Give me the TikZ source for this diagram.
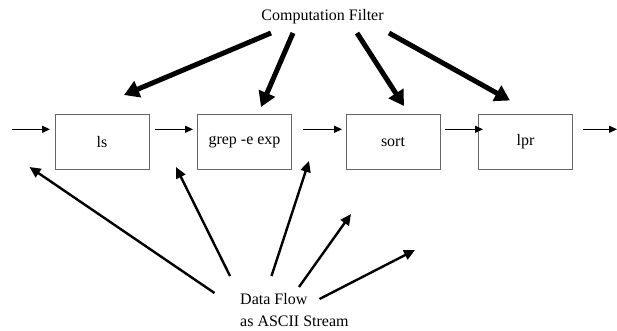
\documentclass[tikz,border=0pt]{standalone}
\usepackage{fontspec}
\setmainfont{Liberation Serif}
\usetikzlibrary{arrows.meta}
\begin{document}
\begin{tikzpicture}[x=1pt,y=-1pt,
  box/.style={draw=black!60,line width=0.9pt,minimum width=94pt,minimum height=55pt,inner sep=0pt,font=\fontsize{16}{19}\selectfont},
  flow/.style={line width=1.2pt,-{Triangle[length=8pt,width=7pt]}},
  filt/.style={line width=5pt,-{Triangle[length=15pt,width=17pt]}},
  data/.style={line width=2.4pt,-{Triangle[length=11pt,width=10pt]}},
  lbl/.style={inner sep=0pt,font=\fontsize{16}{22}\selectfont}]
\useasboundingbox (0,0) rectangle (617,331);
% boxes
\node[box] (ls)   at (102,142)   {ls};
\node[box] (grep) at (244.5,142) {grep -e exp};
\node[box] (sort) at (393,142)   {sort};
\node[box] (lpr)  at (525.5,142) {lpr};
% labels
\node[lbl,anchor=base] (cf) at (322.5,20.7) {Computation Filter};
\node[lbl,anchor=north west,align=left] (df) at (240,293.5) {Data Flow\\as ASCII Stream};
% horizontal flow coordinates
\coordinate (in0) at (12,129.3);
\coordinate (in1) at (50,129.3);
\coordinate (a1) at (155,129.3);
\coordinate (b1) at (193,129.3);
\coordinate (a2) at (303,129.3);
\coordinate (b2) at (342,129.3);
\coordinate (a3) at (445,129.3);
\coordinate (b3) at (483,129.3);
\coordinate (out0) at (583,129.3);
\coordinate (out1) at (617,129.3);
\draw[flow] (in0) -- (in1);
\draw[flow] (a1) -- (b1);
\draw[flow] (a2) -- (b2);
\draw[flow] (a3) -- (b3);
\draw[flow] (out0) -- (out1);
% computation filter arrows
\coordinate (f1s) at (271,33);   \coordinate (f1t) at (124,95);
\coordinate (f2s) at (293,33);   \coordinate (f2t) at (261,107);
\coordinate (f3s) at (357,33);   \coordinate (f3t) at (404,106);
\coordinate (f4s) at (389,33);   \coordinate (f4t) at (510,100.5);
\draw[filt] (f1s) -- (f1t);
\draw[filt] (f2s) -- (f2t);
\draw[filt] (f3s) -- (f3t);
\draw[filt] (f4s) -- (f4t);
% data flow arrows
\coordinate (d1s) at (214.5,293); \coordinate (d1t) at (29.5,167);
\coordinate (d2s) at (230,276);   \coordinate (d2t) at (176,167);
\coordinate (d3s) at (271.5,276); \coordinate (d3t) at (309,161);
\coordinate (d4s) at (299,287);   \coordinate (d4t) at (351,214);
\coordinate (d5s) at (319.5,299); \coordinate (d5t) at (415,250);
\draw[data] (d1s) -- (d1t);
\draw[data] (d2s) -- (d2t);
\draw[data] (d3s) -- (d3t);
\draw[data] (d4s) -- (d4t);
\draw[data] (d5s) -- (d5t);
\end{tikzpicture}
\end{document}
